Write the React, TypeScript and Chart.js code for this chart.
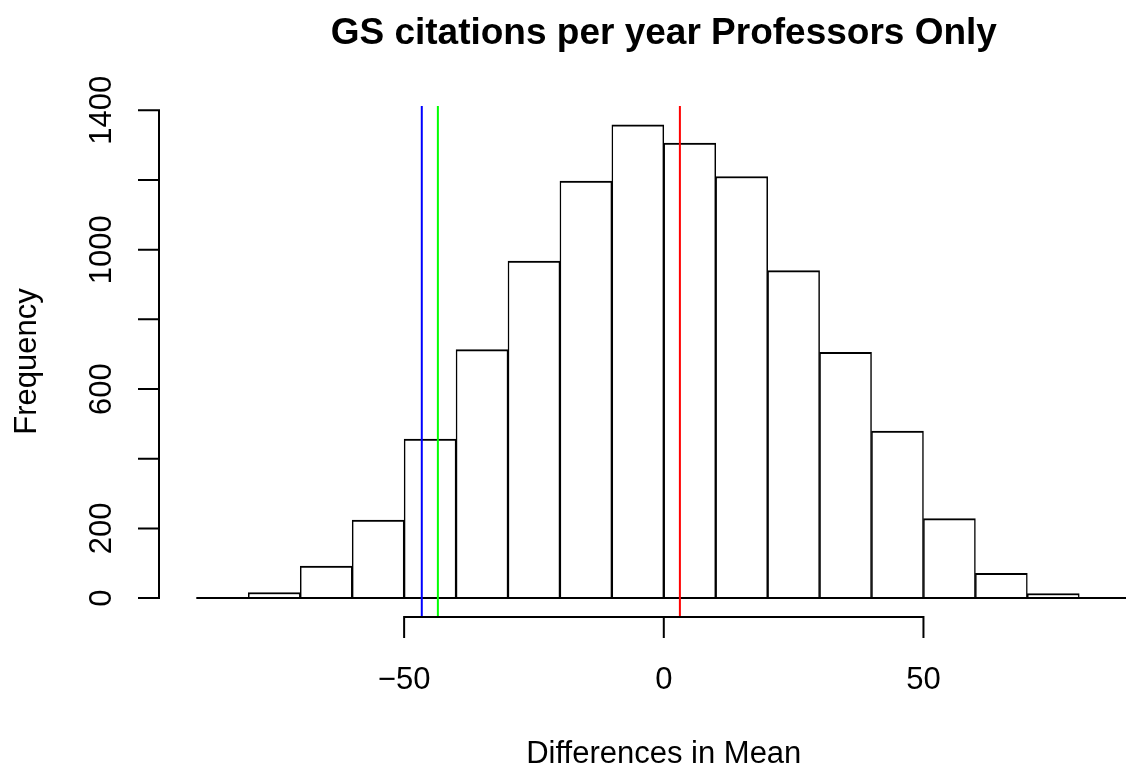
import React, { useEffect, useRef } from 'react';
import { Chart, registerables } from 'chart.js';

Chart.register(...registerables);

// ---- data ----
const binStarts = [-90, -80, -70, -60, -50, -40, -30, -20, -10, 0, 10, 20, 30, 40, 50, 60, 70, 80];
const binWidth = 10;
const counts = [1, 16, 92, 224, 456, 713, 967, 1197, 1358, 1306, 1210, 940, 705, 479, 228, 71, 13, 1];

const refValues = [-46.6, -43.5, 3.1];
const refColors = ['#0000FF', '#00FF00', '#FF0000'];

const xTicks = [-50, 0, 50];
const xTickLabels = ['\u221250', '0', '50'];
const yTicks = [0, 200, 400, 600, 800, 1000, 1200, 1400];
const yTickLabels = ['0', '200', '', '600', '', '1000', '', '1400'];

const titleText = 'GS citations per year Professors Only';
const xLabel = 'Differences in Mean';
const yLabel = 'Frequency';

const xMin = -97.2;
const xMax = 89.0;

const FONT = '"Liberation Sans", Arial, Helvetica, sans-serif';

const rAxesPlugin = {
  id: 'rAxes',
  afterDraw(chart: any) {
    const ctx = chart.ctx as CanvasRenderingContext2D;
    const xs = chart.scales.x;
    const ys = chart.scales.y;
    const area = chart.chartArea;
    const tick = 20;
    ctx.save();
    ctx.strokeStyle = '#000';
    ctx.fillStyle = '#000';
    ctx.lineWidth = 2;
    ctx.lineCap = 'square';

    // y axis
    const ax = area.left;
    ctx.beginPath();
    ctx.moveTo(ax, ys.getPixelForValue(yTicks[0]));
    ctx.lineTo(ax, ys.getPixelForValue(yTicks[yTicks.length - 1]));
    yTicks.forEach((v) => {
      const p = ys.getPixelForValue(v);
      ctx.moveTo(ax, p);
      ctx.lineTo(ax - tick, p);
    });
    ctx.stroke();

    // x axis
    const ay = area.bottom;
    ctx.beginPath();
    ctx.moveTo(xs.getPixelForValue(xTicks[0]), ay);
    ctx.lineTo(xs.getPixelForValue(xTicks[xTicks.length - 1]), ay);
    xTicks.forEach((v) => {
      const p = xs.getPixelForValue(v);
      ctx.moveTo(p, ay);
      ctx.lineTo(p, ay + tick);
    });
    ctx.stroke();

    // tick labels
    ctx.font = `31px ${FONT}`;
    ctx.textAlign = 'center';
    ctx.textBaseline = 'alphabetic';
    xTicks.forEach((v, i) => {
      ctx.fillText(xTickLabels[i], xs.getPixelForValue(v), 689);
    });
    yTicks.forEach((v, i) => {
      if (!yTickLabels[i]) return;
      ctx.save();
      ctx.translate(111, ys.getPixelForValue(v));
      ctx.rotate(-Math.PI / 2);
      ctx.fillText(yTickLabels[i], 0, 0);
      ctx.restore();
    });

    // axis titles
    const cx = (xs.getPixelForValue(-97.2) + xs.getPixelForValue(97.2)) / 2;
    ctx.fillText(xLabel, cx, 763);
    ctx.save();
    ctx.translate(36, (area.top + area.bottom) / 2);
    ctx.rotate(-Math.PI / 2);
    ctx.fillText(yLabel, 0, 0);
    ctx.restore();

    // main title
    ctx.font = `bold 37px ${FONT}`;
    ctx.fillText(titleText, cx, 44);
    ctx.restore();
  },
};

export default function App() {
  const canvasRef = useRef<HTMLCanvasElement | null>(null);

  useEffect(() => {
    if (!canvasRef.current) return;
    const maxCount = Math.max(...counts);
    const yMin = -0.04 * maxCount;
    const yMax = 1.04 * maxCount;

    const barData = binStarts.map((s, i) => ({ x: s + binWidth / 2, y: counts[i] }));
    const first = binStarts[0];
    const last = binStarts[binStarts.length - 1] + binWidth;

    const datasets: any[] = [
      {
        type: 'bar',
        label: 'hist',
        data: barData,
        backgroundColor: '#FFFFFF',
        borderColor: '#000000',
        borderWidth: { top: 2, left: 1.5, right: 1.5, bottom: 0 },
        borderSkipped: 'start',
        categoryPercentage: 1,
        barPercentage: 1,
        order: 2,
      },
      {
        type: 'line',
        label: 'base',
        data: [
          { x: first, y: 0 },
          { x: last, y: 0 },
        ],
        borderColor: '#000000',
        borderWidth: 2,
        pointRadius: 0,
        order: 1,
      },
      ...refValues.map((v, i) => ({
        type: 'line',
        label: 'ref' + i,
        data: [
          { x: v, y: yMin },
          { x: v, y: yMax },
        ],
        borderColor: refColors[i],
        borderWidth: 2,
        pointRadius: 0,
        order: 0,
      })),
    ];

    const chart = new Chart(canvasRef.current, {
      type: 'bar',
      data: { datasets },
      options: {
        responsive: false,
        animation: false,
        events: [],
        layout: { padding: { left: 159, top: 106, right: 0, bottom: 148 } },
        plugins: {
          legend: { display: false },
          tooltip: { enabled: false },
          title: { display: false },
        },
        scales: {
          x: {
            type: 'linear',
            display: false,
            offset: false,
            min: xMin,
            max: xMax,
            afterBuildTicks: (scale: any) => {
              scale.ticks = xTicks.map((v) => ({ value: v }));
            },
          },
          y: {
            type: 'linear',
            display: false,
            min: yMin,
            max: yMax,
          },
        },
      },
      plugins: [rAxesPlugin],
    } as any);

    return () => chart.destroy();
  }, []);

  return (
    <div style={{ position: 'fixed', left: 0, top: 0, width: 1126, height: 765, background: '#fff' }}>
      <canvas ref={canvasRef} width={1126} height={765} />
    </div>
  );
}
